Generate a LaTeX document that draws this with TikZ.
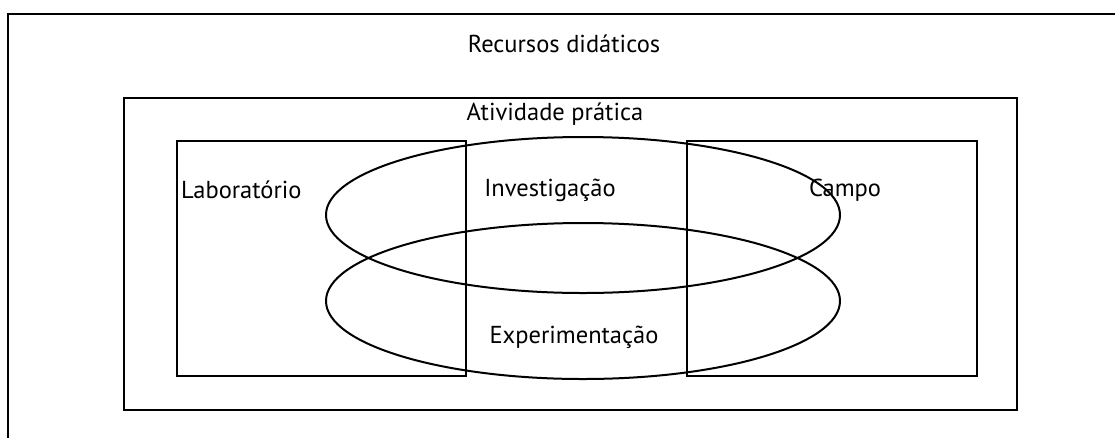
\documentclass[tikz,border=0pt]{standalone}
\usepackage{fontspec}
\setmainfont{PT Sans}
\usetikzlibrary{calc}

\tikzset{
	caixa/.style={line width=2pt, draw=black},
	rotulo/.style={inner sep=0pt, font=\fontsize{24.5}{28}\selectfont}
}

\begin{document}
\begin{tikzpicture}[x=1pt, y=-1pt]
	\useasboundingbox (0,0) rectangle (1115,437);
	\clip (0,0) rectangle (1115,437);

	\pgfmathsetmacro{\rx}{257}
	\pgfmathsetmacro{\ry}{78}

	% Recursos
	\draw[caixa] (1130,14) -- (8,14) -- (8,450);
	\node[rotulo] (recursos) at (564,44) {Recursos didáticos};

	% Atividade
	\draw[caixa] (124,98) rectangle (1017,410);
	\node[rotulo] (atividade) at (555,114) {Atividade prática};

	% Laboratorio e campo
	\draw[caixa] (177,141) rectangle (466,376);
	\draw[caixa] (687,141) rectangle (977,376);
	\node[rotulo, anchor=west] (laboratorio) at (181,190) {Laboratório};
	\node[rotulo] (campo) at (845,190) {Campo};

	% Elipses
	\coordinate (inv) at (583,215);
	\coordinate (exp) at (583,301);
	\draw[caixa] (inv) ellipse ({\rx} and {\ry});
	\draw[caixa] (exp) ellipse ({\rx} and {\ry});
	\node[rotulo] (investigacao) at (550,190) {Investigação};
	\node[rotulo] (experimentacao) at (574,337) {Experimentação};

\end{tikzpicture}
\end{document}
